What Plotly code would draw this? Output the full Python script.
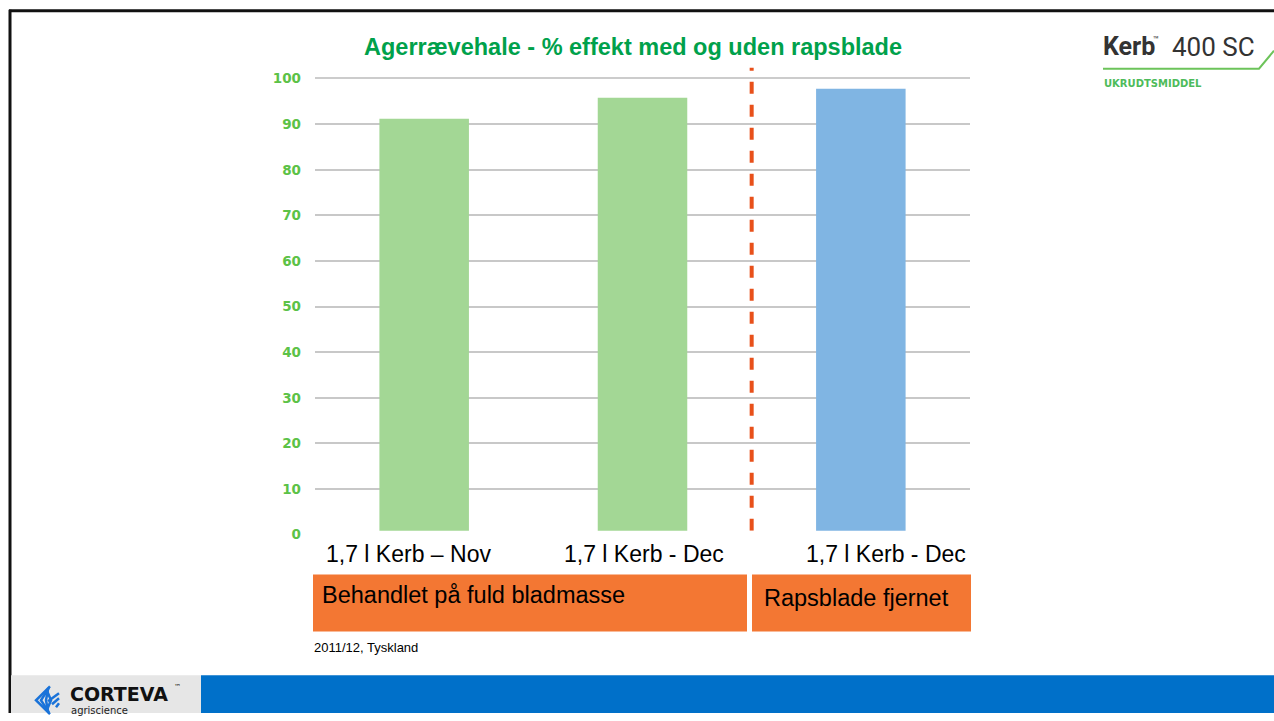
import plotly.graph_objects as go

categories = ["1,7 l Kerb – Nov", "1,7 l Kerb - Dec", "1,7 l Kerb - Dec"]
values = [91.2, 95.8, 97.8]
bar_colors = ["#a3d795", "#a3d795", "#80b5e3"]
y_ticks = [0, 10, 20, 30, 40, 50, 60, 70, 80, 90, 100]
group_labels = ["Behandlet på fuld bladmasse", "Rapsblade fjernet"]

W, H = 1274, 721
def px(x): return x / W
# the viewer shows the page slightly squeezed vertically; compensate
def py(y): return 1 - ((y - 7.2) / 0.98) / H

fig = go.Figure()
fig.add_trace(go.Bar(
    x=[0, 1, 2], y=values, marker=dict(color=bar_colors, line=dict(width=0)),
    width=0.41, showlegend=False, hoverinfo="y",
))

fig.update_layout(
    width=W, height=H, margin=dict(l=0, r=0, t=0, b=0),
    paper_bgcolor="white", plot_bgcolor="white",
    font=dict(family="Liberation Sans, Arial", color="black"),
    xaxis=dict(domain=[px(315), px(970)], range=[-0.5, 2.5], showticklabels=False,
               showgrid=False, zeroline=False, showline=True, linecolor="#cccccc",
               linewidth=2, mirror=True, fixedrange=True),
    yaxis=dict(domain=[py(535), py(78)], range=[0, 100], tickvals=y_ticks,
               showgrid=True, gridcolor="#c8c8c8", gridwidth=2, zeroline=False,
               showline=False, ticks="", ticklabelstandoff=13,
               tickfont=dict(family="DejaVu Sans", size=13.5, color="#5cc247", weight="bold"),
               fixedrange=True),
)

shapes = []
# slide border
shapes.append(dict(type="line", xref="paper", yref="paper", x0=px(9), x1=1, y0=py(10), y1=py(10),
                   line=dict(color="#111111", width=3)))
shapes.append(dict(type="line", xref="paper", yref="paper", x0=px(10), x1=px(10), y0=py(9), y1=0,
                   line=dict(color="#111111", width=3)))
# separator dashed line
shapes.append(dict(type="line", xref="x", yref="paper", x0=1.5, x1=1.5, y0=py(531), y1=py(67),
                   line=dict(color="#e8501a", width=4, dash="12px,11px")))
# white band under chart for category labels
shapes.append(dict(type="rect", xref="paper", yref="paper", x0=px(311), x1=px(978), y0=py(574), y1=py(531),
                   fillcolor="white", line=dict(width=0), layer="above"))
# orange boxes
shapes.append(dict(type="rect", xref="paper", yref="paper", x0=px(313), x1=px(747), y0=py(632), y1=py(575),
                   fillcolor="#f37733", line=dict(width=0), layer="above"))
shapes.append(dict(type="rect", xref="paper", yref="paper", x0=px(752), x1=px(971), y0=py(632), y1=py(575),
                   fillcolor="#f37733", line=dict(width=0), layer="above"))
# footer
shapes.append(dict(type="rect", xref="paper", yref="paper", x0=px(11), x1=px(201), y0=0, y1=py(676),
                   fillcolor="#e6e6e6", line=dict(width=0)))
shapes.append(dict(type="rect", xref="paper", yref="paper", x0=px(201), x1=1, y0=0, y1=py(676),
                   fillcolor="#0070c9", line=dict(width=0)))
# Kerb logo green swoosh
shapes.append(dict(type="path", xref="paper", yref="paper",
                   path=f"M {px(1103)} {py(68)} L {px(1259)} {py(68)} L {px(1274)} {py(50)}",
                   line=dict(color="#6cc35a", width=2)))
# Corteva icon (simplified chevron stripes)
for i in range(4):
    d = i * 5
    shapes.append(dict(type="path", xref="paper", yref="paper",
                       path=f"M {px(50 - d * 0.2)} {py(687 + d * 0.3)} L {px(36 + d)} {py(701)} L {px(50 - d * 0.2)} {py(715 - d * 0.3)}",
                       line=dict(color="#1a73d9", width=2.5)))
for i in range(3):
    shapes.append(dict(type="line", xref="paper", yref="paper",
                       x0=px(48 + i * 4), y0=py(702 + i * 3), x1=px(59), y1=py(694 + i * 5),
                       line=dict(color="#1a73d9", width=2.5)))
fig.update_layout(shapes=shapes)

def note(text, x, y, size, color="black", family=None, xanchor="left"):
    f = dict(size=size, color=color)
    if family:
        f["family"] = family
    return dict(text=text, x=px(x), y=py(y), xref="paper", yref="paper", showarrow=False,
                xanchor=xanchor, yanchor="middle", font=f)

ann = []
ann.append(note("<b>Agerrævehale - % effekt med og uden rapsblade</b>", 633, 46, 23.5,
                "#00a14b", xanchor="center"))
cat_x = [408, 644, 886]
for c, xx in zip(categories, cat_x):
    ann.append(note(c, xx, 554, 23, xanchor="center"))
ann.append(note(group_labels[0], 320, 596, 23.5))
ann.append(note(group_labels[1], 762, 599, 23.5))
ann.append(note("2011/12, Tyskland", 312, 648, 13))
ann.append(note("<b>Kerb</b>", 1101, 46, 25, "#333333", "Roboto"))
ann.append(note("™", 1151, 39, 10, "#333333", "Roboto"))
ann.append(note("400 SC", 1257, 46, 26, "#333333", "Roboto", xanchor="right"))
ann.append(note("<b>UKRUDTSMIDDEL</b>", 1102, 83, 10, "#4dbb5a", "DejaVu Sans"))
ann.append(note("<b>CORTEVA</b>", 68, 695, 19, "#111111", "DejaVu Sans"))
ann.append(note("™", 172, 688, 7, "#111111", "DejaVu Sans"))
ann.append(note("agriscience", 69, 711, 10, "#222222", "DejaVu Sans"))
fig.update_layout(annotations=ann)

pin = ("document.documentElement.style.overflow='hidden';"
       "document.body.style.margin='0';document.body.style.overflow='hidden';"
       "var g=document.getElementById('{plot_id}');"
       "g.style.position='fixed';g.style.left='0px';g.style.top='0px';")
fig.write_html("out.html", post_script=pin, config={"displayModeBar": False})
